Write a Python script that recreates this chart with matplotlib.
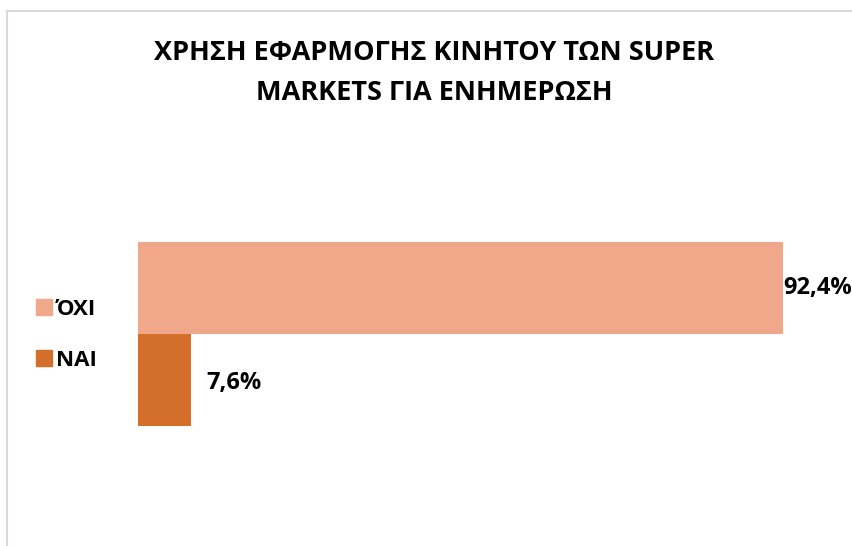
import matplotlib
matplotlib.use("Agg")
import matplotlib.pyplot as plt
from matplotlib.lines import Line2D
from matplotlib.patches import Patch

plt.rcParams['font.family'] = ['Open Sans', 'DejaVu Sans']

# data
categories = ["ΝΑΙ", "ΌΧΙ"]
values = [7.6, 92.4]
colors = ["#D36F2B", "#F1A78A"]
title = "ΧΡΗΣΗ ΕΦΑΡΜΟΓΗΣ ΚΙΝΗΤΟΥ ΤΩΝ SUPER\nMARKETS ΓΙΑ ΕΝΗΜΕΡΩΣΗ"

W, H = 853, 546
fig = plt.figure(figsize=(W / 100, H / 100), dpi=100)

# bars area: x 138..836 px, y 242..426 px
ax = fig.add_axes([138 / W, (H - 426) / H, (836 - 138) / W, 184 / H])
ypos = range(len(categories))
ax.barh(ypos, values, height=1.0, color=colors)
ax.set_xlim(0, 100)
ax.set_ylim(-0.5, 1.5)
ax.axis("off")

for y, v in zip(ypos, values):
    lbl = f"{v:.1f}%".replace(".", ",")
    ax.annotate(lbl, (v, y), xytext=(11 if v < 50 else 0, -2 if v < 50 else 0),
                textcoords="offset points", ha="left", va="center",
                fontsize=17, fontweight="bold", color="black", clip_on=False)

fig.text(434 / W, 1 - 73 / H, title, ha="center", va="center",
         fontsize=19.5, fontweight="bold", linespacing=1.68)

handles = [Patch(color=colors[1]), Patch(color=colors[0])]
fig.legend(handles, [categories[1], categories[0]], loc="center left",
           bbox_to_anchor=(16 / W, 1 - 335 / H), frameon=False,
           handlelength=0.7, handleheight=0.7, handletextpad=0.2,
           labelspacing=1.35, prop={"size": 16, "weight": "bold"})

# chart border (light gray)
fig.add_artist(Line2D([7 / W, 7 / W], [0, 1 - 11 / H], color="#D9D9D9", lw=1.5,
                      transform=fig.transFigure))
fig.add_artist(Line2D([7 / W, 1], [1 - 11 / H, 1 - 11 / H], color="#D9D9D9", lw=1.5,
                      transform=fig.transFigure))

fig.savefig("out.png", dpi=100)
